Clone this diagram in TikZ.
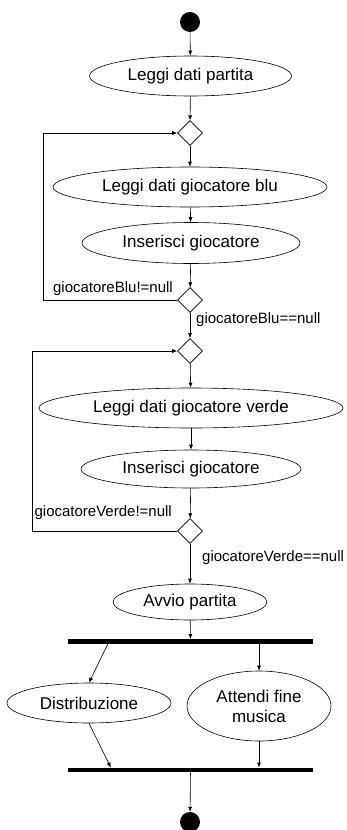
\documentclass[tikz,border=0pt]{standalone}
\usepackage{fontspec}
\setmainfont{Liberation Sans}
\usetikzlibrary{shapes.geometric,arrows.meta}
\begin{document}
\begin{tikzpicture}[x=1pt,y=-1pt,
  act/.style={draw=black,line width=0.6pt,ellipse,inner sep=0pt,font=\fontsize{17}{20}\selectfont,align=center},
  dec/.style={draw=black,line width=0.6pt,diamond,minimum width=25pt,minimum height=25pt,inner sep=0pt},
  bar/.style={fill=black,rectangle,inner sep=0pt,minimum width=245pt,minimum height=4.5pt},
  dot/.style={fill=black,circle,inner sep=0pt,minimum size=20pt},
  arr/.style={-{Latex[length=5pt,width=4pt]},line width=0.6pt},
  lbl/.style={font=\fontsize{15}{17}\selectfont,inner sep=0pt}]
\useasboundingbox (0,0) rectangle (346,830);
\node[dot] (start) at (190,22) {};
\node[act,minimum width=202pt,minimum height=40pt] (partita) at (190.5,76) {Leggi dati partita};
\node[dec] (d1) at (190,133) {};
\node[act,minimum width=274pt,minimum height=40pt] (blu) at (190,187) {Leggi dati giocatore blu};
\node[act,minimum width=218pt,minimum height=41pt] (ins1) at (191,243) {Inserisci giocatore};
\node[dec] (d2) at (190,300) {};
\node[dec] (d3) at (190,351) {};
\node[act,minimum width=304pt,minimum height=40pt] (verde) at (191,408) {Leggi dati giocatore verde};
\node[act,minimum width=220pt,minimum height=38pt] (ins2) at (191,469) {Inserisci giocatore};
\node[dec] (d4) at (190,531) {};
\node[act,minimum width=154pt,minimum height=36pt] (avvio) at (190,602) {Avvio partita};
\node[bar] (fork) at (190.5,641.5) {};
\node[act,minimum width=164pt,minimum height=40pt] (dist) at (89,703) {Distribuzione};
\node[act,minimum width=144pt,minimum height=70pt] (att) at (259,706) {Attendi fine\\musica};
\node[bar] (join) at (190.5,770) {};
\node[dot] (end) at (190,822) {};

\node[lbl,anchor=east] (l1) at (173,289) {giocatoreBlu!=null};
\node[lbl,anchor=west] (l2) at (196,320) {giocatoreBlu==null};
\node[lbl,anchor=east] (l3) at (172,513) {giocatoreVerde!=null};
\node[lbl,anchor=west] (l4) at (202,558) {giocatoreVerde==null};

\coordinate (c1) at (43,300);
\coordinate (c2) at (43,133);
\coordinate (c3) at (32,531);
\coordinate (c4) at (32,351);

\draw[arr] (start) -- (partita);
\draw[arr] (partita) -- (d1);
\draw[arr] (d1) -- (blu);
\draw[arr] (blu) -- (ins1);
\draw[arr] (ins1) -- (d2);
\draw[arr] (d2.west) -- (c1) -- (c2) -- (d1.west);
\draw[arr] (d2) -- (d3);
\draw[arr] (d3) -- (verde);
\draw[arr] (verde) -- (ins2);
\draw[arr] (ins2) -- (d4);
\draw[arr] (d4.west) -- (c3) -- (c4) -- (d3.west);
\draw[arr] (d4) -- (avvio);
\draw[arr] (avvio) -- (fork);
\draw[arr] ([xshift=40pt]fork.south west) -- (dist.north);
\draw[arr] (fork.south -| att.north) -- (att.north);
\draw[arr] (dist.south) -- ([xshift=43pt]join.north west);
\draw[arr] (att.south) -- (join.north -| att.south);
\draw[arr] (join) -- (end);
\end{tikzpicture}
\end{document}
